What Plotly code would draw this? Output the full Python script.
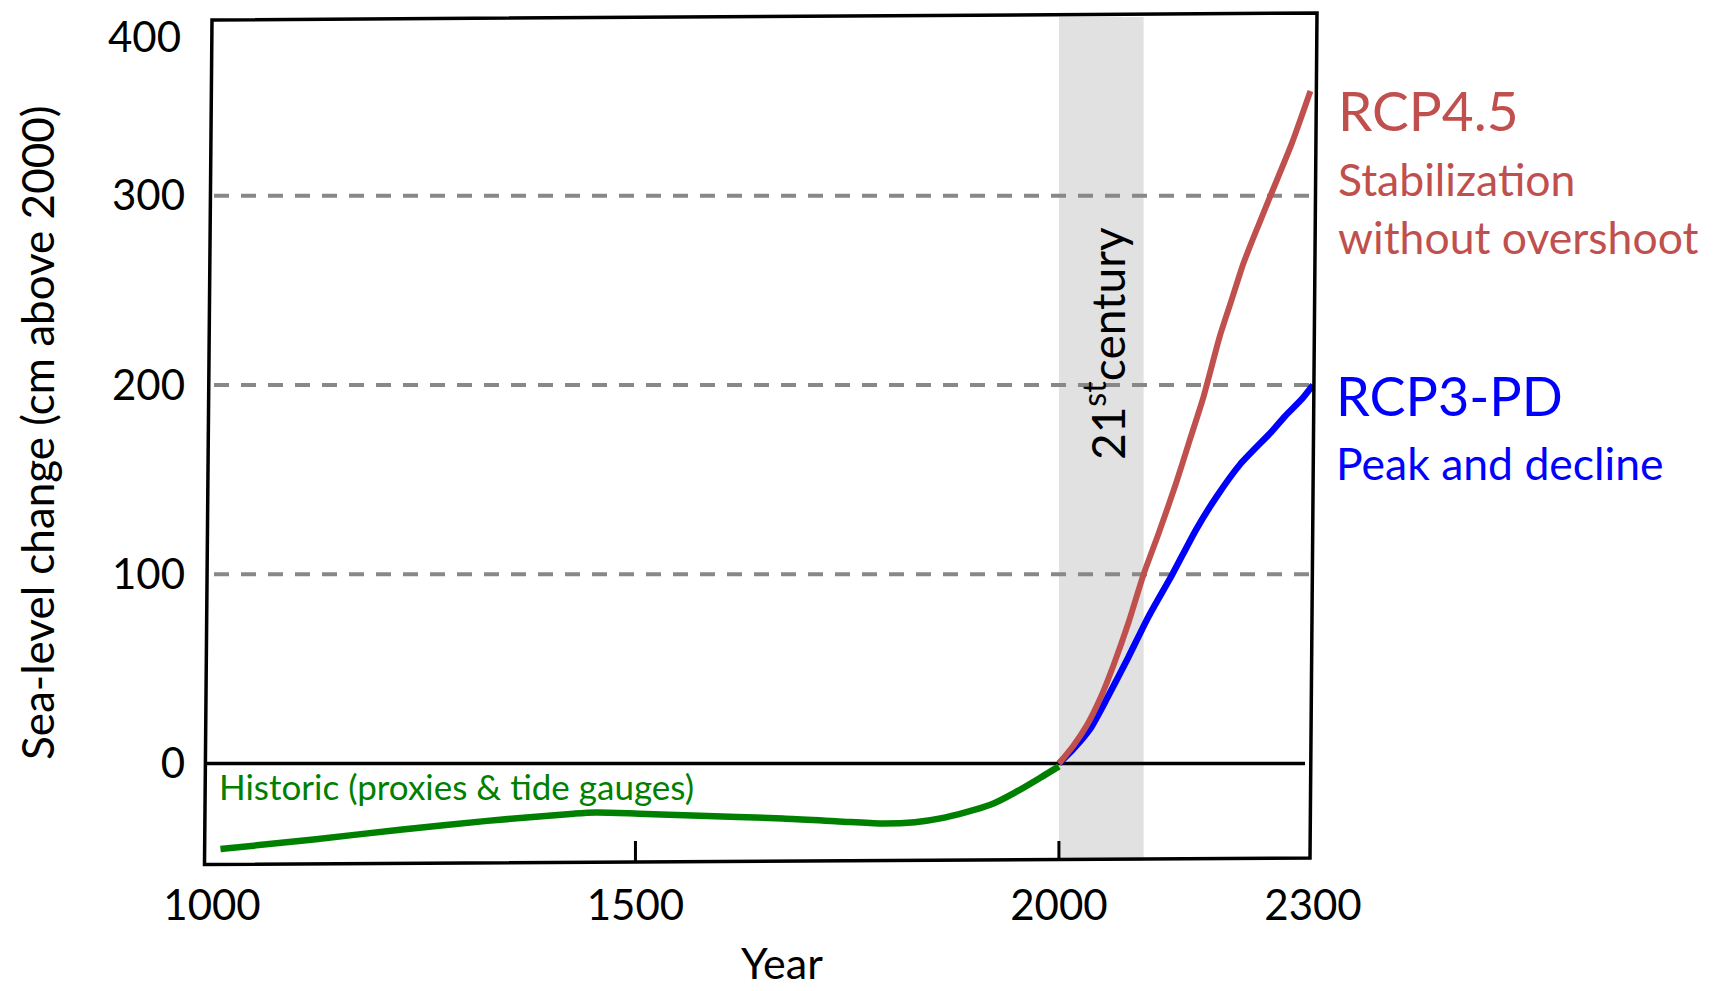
import plotly.graph_objects as go

# ---------------- data ----------------
hist_years = [1010, 1120, 1222, 1325, 1427, 1453, 1504, 1567, 1674, 1740, 1791, 1830,
              1860, 1919, 1951, 1978, 2000]
hist_cm = [-45.2, -40.1, -35.0, -30.3, -26.5, -25.9, -26.5, -27.5, -29.0, -30.6, -31.7,
           -31.0, -29.0, -21.8, -14.6, -7.5, -1.5]

rcp45_years = [2000, 2017, 2033, 2049, 2065, 2082, 2100, 2118, 2138, 2154, 2170, 2190,
               2204, 2218, 2235, 2251, 2275, 2297]
rcp45_cm = [0, 9.4, 20.2, 34.6, 52.6, 74.2, 100, 121.9, 147.7, 170.2, 192.6, 225.8,
            245.1, 264.4, 283.7, 301.3, 327.6, 355.3]

rcp3pd_years = [2000, 2017, 2037, 2057, 2082, 2106, 2134, 2162, 2186, 2214, 2251, 2267,
                2287, 2300]
rcp3pd_cm = [0, 7.6, 18.4, 34.6, 56.2, 77.8, 100, 123.6, 140.9, 158.1, 175.3, 183.5,
             192.6, 200]

x_tickvals = [1000, 1500, 2000, 2300]
x_ticktext = ["1000", "1500", "2000", "2300"]
y_tickvals = [0, 100, 200, 300]
y_ticktext = ["0", "100", "200", "300"]
y_top_label = "400"
guide_levels = [100, 200, 300]
century_span = [2000, 2100]

x_range = [1000, 2300]
y_range = [-51.5, 394.4]

# ---------------- layout geometry (page pixels; the page body has an 8px margin) ----------------
PAGE_OFF = 8
W, H = 1717 - PAGE_OFF, 991 - PAGE_OFF
L, R, T, B = 212, 1313, 17, 861   # plot area edges in page pixels


def px_x(x):
    return (x - L) / (R - L)


def px_y(y):
    return (B - y) / (B - T)


FONT = "Lato"
RED = "#C0504D"
BLUE = "#0000FF"
GREEN = "#008000"

fig = go.Figure()

fig.add_trace(go.Scatter(x=rcp3pd_years, y=rcp3pd_cm, mode="lines",
                         line=dict(color=BLUE, width=6.5, shape="spline", smoothing=0.6),
                         name="RCP3-PD", hoverinfo="skip"))
fig.add_trace(go.Scatter(x=rcp45_years, y=rcp45_cm, mode="lines",
                         line=dict(color=RED, width=6, shape="spline", smoothing=0.6),
                         name="RCP4.5", hoverinfo="skip"))
fig.add_trace(go.Scatter(x=hist_years, y=hist_cm, mode="lines",
                         line=dict(color=GREEN, width=6.5, shape="spline", smoothing=0.8),
                         name="Historic", hoverinfo="skip"))

shapes = []
# 21st century band
shapes.append(dict(type="rect", xref="x", yref="paper", x0=century_span[0], x1=century_span[1],
                   y0=0, y1=1, fillcolor="#E1E1E1", line=dict(width=0), layer="below"))
# dashed guide lines
for lev in guide_levels:
    shapes.append(dict(type="line", xref="paper", yref="y", x0=px_x(214), x1=px_x(1314),
                       y0=lev, y1=lev, line=dict(color="#888888", width=4, dash="15px,12px"),
                       layer="below"))
# zero line
shapes.append(dict(type="line", xref="paper", yref="y", x0=px_x(206), x1=px_x(1305),
                   y0=0, y1=0, line=dict(color="black", width=3.5), layer="below"))
# inner tick marks
for v in x_tickvals[1:-1]:
    shapes.append(dict(type="line", xref="x", yref="paper", x0=v, x1=v,
                       y0=px_y(B), y1=px_y(B - 20), line=dict(color="black", width=3),
                       layer="above"))
# hand-drawn (slightly skewed) frame
corners = [(212, 20), (1317, 13), (1310, 858), (204.5, 864.5)]
path = "M " + " L ".join(f"{px_x(x):.5f},{px_y(y):.5f}" for x, y in corners) + " Z"
shapes.append(dict(type="path", xref="paper", yref="paper", path=path,
                   line=dict(color="black", width=3.5), layer="above"))

annotations = []


def text_at(x, y, text, size, color="black", xanchor="left", yanchor="middle", angle=0):
    annotations.append(dict(xref="paper", yref="paper", x=px_x(x), y=px_y(y), text=text,
                            showarrow=False, xanchor=xanchor, yanchor=yanchor,
                            textangle=angle,
                            font=dict(family=FONT, size=size, color=color)))


text_at(183, 8.5, y_top_label, 42, xanchor="right", yanchor="top")
text_at(37, 433, "Sea-level change (cm above 2000)", 44, xanchor="center", angle=-90)
text_at(782, 990, "Year", 43, xanchor="center", yanchor="bottom")
text_at(217, 786, "Historic (proxies &amp; tide gauges)", 35, color=GREEN)
text_at(1336, 110, "RCP4.5", 55, color=RED)
text_at(1336, 178, "Stabilization", 44.5, color=RED)
text_at(1336, 236, "without overshoot", 44.5, color=RED)
text_at(1334, 396, "RCP3-PD", 54, color=BLUE)
text_at(1334, 462, "Peak and decline", 44.5, color=BLUE)
text_at(1104, 344, "21<sup>st</sup>century", 46, xanchor="center", angle=-90)

fig.update_layout(
    width=W, height=H,
    margin=dict(l=L - PAGE_OFF, r=(W + PAGE_OFF) - R, t=T - PAGE_OFF, b=(H + PAGE_OFF) - B,
                autoexpand=False),
    paper_bgcolor="white", plot_bgcolor="white",
    showlegend=False,
    shapes=shapes, annotations=annotations,
    font=dict(family=FONT, color="black"),
    xaxis=dict(range=x_range, tickvals=x_tickvals, ticktext=x_ticktext, ticks="",
               showgrid=False, zeroline=False, showline=False,
               tickfont=dict(family=FONT, size=42, color="black"),
               ticklabelstandoff=16),
    yaxis=dict(range=y_range, tickvals=y_tickvals, ticktext=y_ticktext, ticks="",
               showgrid=False, zeroline=False, showline=False,
               tickfont=dict(family=FONT, size=42, color="black"),
               ticklabelstandoff=26),
)

fig.write_html("out.html")
